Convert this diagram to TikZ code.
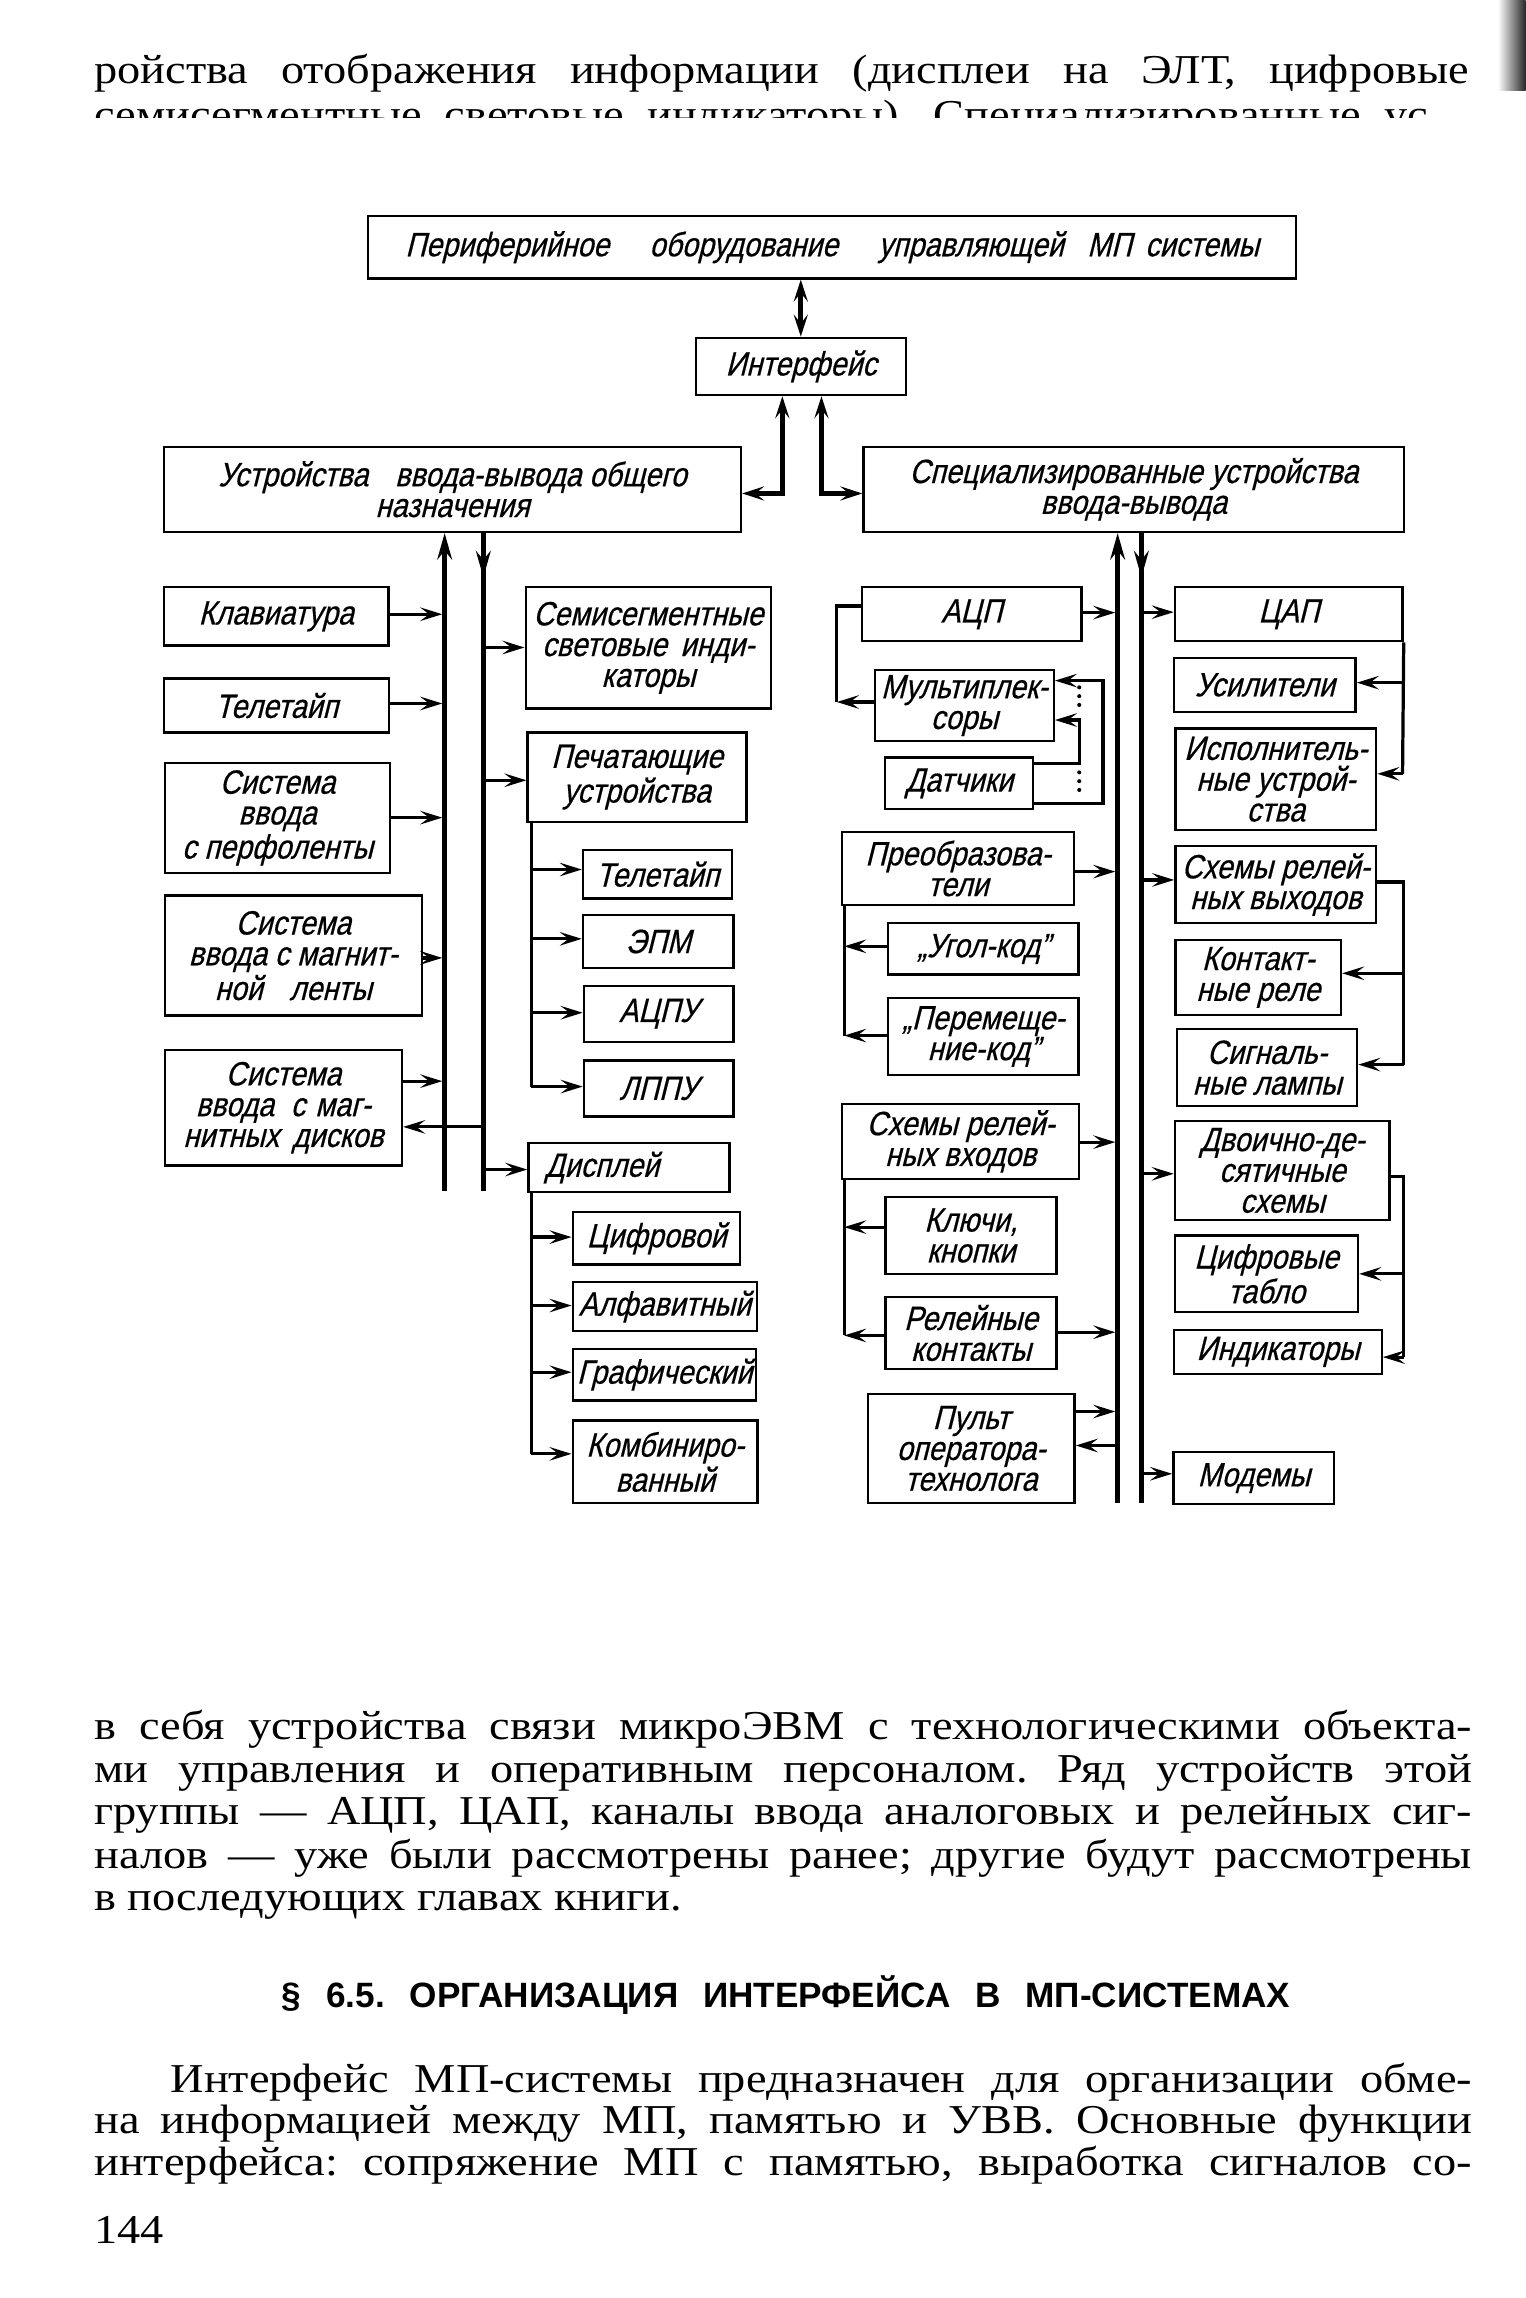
\documentclass[tikz,border=0pt]{standalone}
\usepackage{fontspec}
\usetikzlibrary{arrows.meta,calc}
\newfontfamily\gostfont{Liberation Sans}[FakeSlant=0.25,FakeStretch=0.85,FakeBold=0.5]
\newfontfamily\bodyfont{Liberation Serif}[FakeStretch=1.13]
\newfontfamily\headfont{Liberation Sans}
\newcommand\mybox[6]{\node[box,minimum width={(#4-#2)*0.5pt},minimum height={(#5-#3)*0.5pt}] (#1) at ({(#2+#4)/2},{(#3+#5)/2}) {#6};}
\frenchspacing
\begin{document}
\begin{tikzpicture}[x=0.5pt,y=-0.5pt,
 box/.style={draw,line width=0.8pt,inner sep=0pt,align=center,font={\gostfont\fontsize{11.5pt}{10.5pt}\selectfont}},
 conn/.style={line width=1.1pt},
 bus/.style={line width=1.7pt},
 arr/.style={-{Stealth[length=7.5pt,width=4.6pt,inset=3pt]}},
 busup/.style={{Stealth[length=9pt,width=5pt,inset=3pt]}-},
 busdown/.style={-{Stealth[length=9pt,width=5pt,inset=3pt]}},
 both/.style={{Stealth[length=7.5pt,width=4.8pt,inset=3pt]}-{Stealth[length=7.5pt,width=4.8pt,inset=3pt]}},
 dots/.style={line width=1.4pt,dash pattern=on 0pt off 3pt,line cap=round},
 body/.style={anchor=base west,inner sep=0pt,font={\bodyfont\fontsize{14pt}{14.5pt}\selectfont}},
]
\useasboundingbox (0,0) rectangle (1041,1568);
\fill[white] (0,0) rectangle (1041,1568);
% scan edge
\shade[left color=white,right color=black!85] (1022,0) rectangle (1041,62);

% ---------- page text ----------
\node[body] (t1) at (64,57) {\makebox[469pt][s]{ройства отображения информации (дисплеи на ЭЛТ, цифровые}};
\begin{scope}
\clip (0,0) rectangle (1041,80);
\node[body] (t2) at (64,88) {\makebox[455pt][s]{семисегментные световые индикаторы). Специализированные ус}};
\end{scope}

\node[body] (l1) at (64,1187) {\makebox[470pt][s]{в себя устройства связи микроЭВМ с технологическими объекта-}};
\node[body] (l2) at (64,1216.4) {\makebox[470pt][s]{ми управления и оперативным персоналом. Ряд устройств этой}};
\node[body] (l3) at (64,1245.2) {\makebox[470pt][s]{группы — АЦП, ЦАП, каналы ввода аналоговых и релейных сиг-}};
\node[body] (l4) at (64,1275) {\makebox[470pt][s]{налов — уже были рассмотрены ранее; другие будут рассмотрены}};
\node[body] (l5) at (64,1303.3) {в последующих главах книги.};
\node[anchor=base west,inner sep=0pt,font={\headfont\bfseries\fontsize{12pt}{13pt}\selectfont}] (hd) at (192,1370)
  {\makebox[344pt][s]{§ 6.5. ОРГАНИЗАЦИЯ ИНТЕРФЕЙСА В МП-СИСТЕМАХ}};
\node[body] (p1) at (116,1428) {\makebox[444pt][s]{Интерфейс МП-системы предназначен для организации обме-}};
\node[body] (p2) at (64,1455.7) {\makebox[470pt][s]{на информацией между МП, памятью и УВВ. Основные функции}};
\node[body] (p3) at (64,1484.6) {\makebox[470pt][s]{интерфейса: сопряжение МП с памятью, выработка сигналов со-}};
\node[body] (pn) at (64,1531) {144};

% ---------- diagram boxes ----------
\mybox{per}{251.3}{147.4}{884.3}{190}{Периферийное\hspace{1.2em}оборудование\hspace{1.2em}управляющей\hspace{0.7em}МП\hspace{0.4em}системы}
\mybox{intf}{474.8}{230.5}{618.4}{269.6}{Интерфейс}
\mybox{gen}{111.8}{304.8}{505.6}{362.9}{Устройства\hspace{0.8em}ввода-вывода общего\\назначения}
\mybox{spec}{589.2}{304.8}{958}{362.9}{Специализированные устройства\\ввода-вывода}

% left inputs
\mybox{kl}{111.8}{400.7}{265.1}{440.4}{Клавиатура}
\mybox{tt}{111.8}{463}{265.6}{499.8}{Телетайп}
\mybox{pf}{112.4}{520.5}{266.2}{595.6}{Система\\ввода\\с перфоленты}
\mybox{ml}{112.4}{611.1}{287.8}{693}{Система\\ввода с магнит-\\ной\hspace{0.8em}ленты}
\mybox{md}{112.4}{716.5}{274.3}{795.2}{Система\\ввода\hspace{0.5em}с\hspace{0.3em}маг-\\нитных\hspace{0.4em}дисков}

% left outputs
\mybox{sem}{358.7}{400.7}{526}{483.4}{Семисегментные\\световые\hspace{0.4em}инди-\\каторы}
\mybox{pech}{360}{499.8}{509.3}{560.7}{Печатающие\\устройства}
\mybox{tt2}{397.8}{580}{499.5}{613}{Телетайп}
\mybox{epm}{397.8}{624.4}{500.4}{660.4}{ЭПМ}
\mybox{acpu}{398.4}{672.6}{500.4}{710.8}{АЦПУ}
\mybox{lppu}{398.4}{723.5}{500.4}{761.8}{ЛППУ}
\mybox{disp}{360.6}{780}{497.8}{813.4}{Дисплей\hspace{1.6em}}
\mybox{cif}{390.8}{827}{505.1}{862.8}{Цифровой}
\mybox{alf}{390.8}{874.8}{516.4}{908.3}{Алфавитный}
\mybox{gra}{390.8}{920.3}{516}{955.6}{Графический}
\mybox{kom}{390.8}{969.3}{516.9}{1025.7}{Комбиниро-\\ванный}

% right group, left column
\mybox{acp}{588}{400.7}{738}{437.5}{АЦП}
\mybox{mux}{597}{457.3}{719}{505.5}{Мультиплек-\\соры}
\mybox{dat}{604}{516.8}{705}{552.2}{Датчики}
\mybox{pre}{574.5}{567.8}{733}{617.4}{Преобразова-\\тели}
\mybox{ugk}{606}{630}{736}{665}{„Угол-код”}
\mybox{pmk}{606}{681}{736}{733.5}{„Перемеще-\\ние-код”}
\mybox{srv}{574.5}{753.3}{736.4}{804.3}{Схемы релей-\\ных входов}
\mybox{klk}{604.2}{816.8}{720.8}{869.2}{Ключи,\\кнопки}
\mybox{rk}{604.2}{885.1}{720.8}{934}{Релейные\\контакты}
\mybox{pult}{592.1}{951}{733.2}{1025.7}{Пульт\\оператора-\\технолога}

% right group, right column
\mybox{cap}{801.7}{400.7}{957}{437.5}{ЦАП}
\mybox{usl}{801}{448.9}{925}{485.7}{Усилители}
\mybox{isp}{802}{497}{939}{566.4}{Исполнитель-\\ные устрой-\\ства}
\mybox{srvy}{802}{577.1}{939}{630}{Схемы релей-\\ных выходов}
\mybox{kr}{802}{641.4}{915}{692.4}{Контакт-\\ные реле}
\mybox{sl}{803}{702.3}{926}{754.7}{Сигналь-\\ные лампы}
\mybox{dds}{801.7}{765}{948.2}{832.3}{Двоично-де-\\сятичные\\схемы}
\mybox{ct}{801.7}{843}{926.6}{895.3}{Цифровые\\табло}
\mybox{ind}{801.2}{907.4}{942.8}{937.4}{Индикаторы}
\mybox{mod}{800.6}{990.9}{910.4}{1026.2}{Модемы}

% ---------- coordinates ----------
\coordinate (b1) at (303.4,0);
\coordinate (b1e) at (301.8,0);
\coordinate (b2) at (329.8,0);
\coordinate (b3) at (762.6,0);
\coordinate (b3e) at (761.0,0);
\coordinate (b4) at (778.8,0);
\coordinate (pl) at (362.5,0);
\coordinate (pl2) at (576,0);
\coordinate (rl1) at (957,0);
\coordinate (rl2) at (957.7,0);
\coordinate (lc) at (571,479);

% ---------- top connectors ----------
\draw[line width=1.6pt,both] (per.south -| 546.4,0) -- (intf.north -| 546.4,0);
\draw[line width=1.5pt,both] (intf.south -| 533.8,0) |- (gen.east |- 0,336.7);
\draw[line width=1.5pt,both] (intf.south -| 560.5,0) |- (spec.west |- 0,336.7);

% ---------- buses ----------
\draw[bus,busup] (b1 |- gen.south) -- (b1 |- 0,812.8);
\draw[bus] (b2 |- gen.south) -- (b2 |- 0,812.8);
\draw[bus,busdown] (b2 |- gen.south) -- (b2 |- 0,394);
\draw[bus,busup] (b3 |- spec.south) -- (b3 |- 0,1025.7);
\draw[bus] (b4 |- spec.south) -- (b4 |- 0,1025.7);
\draw[bus,busdown] (b4 |- spec.south) -- (b4 |- 0,394);

% ---------- left group ----------
\draw[conn,arr] (kl.east |- 0,419.1) -- (b1e |- 0,419.1);
\draw[conn,arr] (tt.east |- 0,480) -- (b1e |- 0,480);
\draw[conn,arr] (pf.east |- 0,557.9) -- (b1e |- 0,557.9);
\draw[conn,arr] (ml.east |- 0,653.6) -- (b1e |- 0,653.6);
\draw[conn,arr] (md.east |- 0,737.7) -- (b1e |- 0,737.7);
\draw[conn,arr] (b2 |- 0,768.9) -- (md.east |- 0,768.9);

\draw[conn,arr] (b2 |- 0,441.8) -- (sem.west |- 0,441.8);
\draw[conn,arr] (b2 |- 0,532.4) -- (pech.west |- 0,532.4);
\draw[conn,arr] (b2 |- 0,798) -- (disp.west |- 0,798);

\draw[conn] (pl |- pech.south) -- (pl |- 0,741.4);
\draw[conn,arr] (pl |- 0,593.3) -- (tt2.west |- 0,593.3);
\draw[conn,arr] (pl |- 0,640.6) -- (epm.west |- 0,640.6);
\draw[conn,arr] (pl |- 0,691) -- (acpu.west |- 0,691);
\draw[conn,arr] (pl |- 0,741.4) -- (lppu.west |- 0,741.4);

\draw[conn] (pl |- disp.south) -- (pl |- 0,992);
\draw[conn,arr] (pl |- 0,844.1) -- (cif.west |- 0,844.1);
\draw[conn,arr] (pl |- 0,890.8) -- (alf.west |- 0,890.8);
\draw[conn,arr] (pl |- 0,936.3) -- (gra.west |- 0,936.3);
\draw[conn,arr] (pl |- 0,992) -- (kom.west |- 0,992);

% ---------- right group, left column ----------
\draw[conn,arr] (acp.east |- 0,418) -- (b3e |- 0,418);
\draw[conn,arr] (mux.west |- lc) -- (lc);
\draw[conn] (lc) |- (acp.west |- 0,413.5);
\draw[conn,arr] (dat.east |- 0,548) -| (752.6,464.4) -- (mux.east |- 0,464.4);
\draw[conn,arr] (dat.east |- 0,521) -| (736.4,491.3) -- (mux.east |- 0,491.3);
\draw[dots] (736.4,469) -- (736.4,485);
\draw[dots] (736.4,527) -- (736.4,543);

\draw[conn,arr] (pre.east |- 0,594.7) -- (b3e |- 0,594.7);
\draw[conn] (pl2 |- pre.south) -- (pl2 |- 0,706.6);
\draw[conn,arr] (ugk.west |- 0,645.7) -- (pl2 |- 0,645.7);
\draw[conn,arr] (pmk.west |- 0,706.6) -- (pl2 |- 0,706.6);

\draw[conn,arr] (srv.east |- 0,779.3) -- (b3e |- 0,779.3);
\draw[conn] (pl2 |- srv.south) -- (pl2 |- 0,911.2);
\draw[conn,arr] (klk.west |- 0,837.3) -- (pl2 |- 0,837.3);
\draw[conn,arr] (rk.west |- 0,911.2) -- (pl2 |- 0,911.2);
\draw[conn,arr] (rk.east |- 0,909) -- (b3e |- 0,909);

\draw[conn,arr] (pult.east |- 0,963.1) -- (b3e |- 0,963.1);
\draw[conn,arr] (b3 |- 0,986.3) -- (pult.east |- 0,986.3);

% ---------- right group, right column ----------
\draw[conn,arr] (b4 |- 0,417.7) -- (cap.west |- 0,417.7);
\draw[conn] (cap.south east) -- (rl1 |- 0,528);
\draw[conn,arr] (rl1 |- 0,465.8) -- (usl.east |- 0,465.8);
\draw[conn,arr] (rl1 |- 0,528) -- (isp.east |- 0,528);

\draw[conn,arr] (b4 |- 0,600.4) -- (srvy.west |- 0,600.4);
\draw[conn] (srvy.east |- 0,601.8) -| (rl2 |- 0,726.4);
\draw[conn,arr] (rl2 |- 0,664.1) -- (kr.east |- 0,664.1);
\draw[conn,arr] (rl2 |- 0,726.4) -- (sl.east |- 0,726.4);

\draw[conn,arr] (b4 |- 0,800.9) -- (dds.west |- 0,800.9);
\draw[conn] (dds.east |- 0,803) -| (rl2 |- 0,926);
\draw[conn,arr] (rl2 |- 0,869.2) -- (ct.east |- 0,869.2);
\draw[conn,arr] (rl2 |- 0,926) -- (ind.east |- 0,926);

\draw[conn,arr] (b4 |- 0,1005.6) -- (mod.west |- 0,1005.6);
\end{tikzpicture}
\end{document}
